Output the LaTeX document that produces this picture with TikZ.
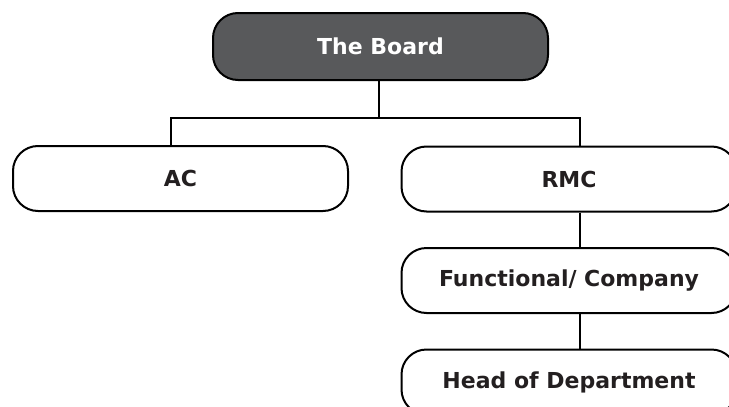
\documentclass[tikz,border=0pt]{standalone}
\usepackage{fontspec}
\setmainfont{DejaVu Sans}
\usepackage{tikz}
\definecolor{boardgray}{HTML}{58595B}
\definecolor{inkgray}{HTML}{231F20}

\begin{document}
\begin{tikzpicture}[x=1pt, y=-1pt,
  mybox/.style={draw=black, line width=2pt, rounded corners=25pt,
    minimum width=335pt, minimum height=65pt, inner sep=0pt,
    font=\fontsize{22}{24}\selectfont\bfseries, text=inkgray},
  myline/.style={draw=black, line width=2pt}]
  \clip (0,0) rectangle (729,407);
  \useasboundingbox (0,0) rectangle (729,407);

%boxes
  \node[mybox, fill=boardgray, text=white, minimum height=67pt] (board) at (380.5,46.5) {The Board};
  \node[mybox] (ac) at (180.5,178.5) {AC};
  \node[mybox] (rmc) at (569,179) {RMC};
  \node[mybox] (func) at (569,280.5) {Functional/ Company};
  \node[mybox] (head) at (569,382) {Head of Department};

%connectors
  \coordinate (busL) at (171,118);
  \coordinate (busM) at (379,118);
  \coordinate (busR) at (579.5,118);

  \draw[myline] (board.south -| busM) -- (busM);
  \draw[myline] (ac.north -| busL) -- (busL) -- (busR) -- (rmc.north -| busR);
  \draw[myline] (rmc.south -| busR) -- (func.north -| busR);
  \draw[myline] (func.south -| busR) -- (head.north -| busR);
\end{tikzpicture}
\end{document}
